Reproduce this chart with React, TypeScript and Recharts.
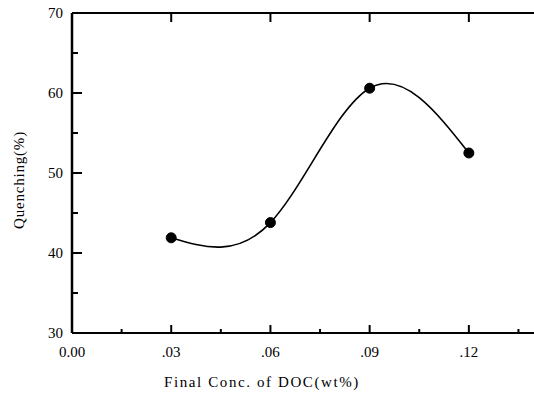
import React from 'react';
import { LineChart, Line, XAxis, YAxis } from 'recharts';

// DOC concentration (wt%) vs quenching (%)
const conc = [0.03, 0.06, 0.09, 0.12];
const quenching = [41.9, 43.8, 60.6, 52.5];

const xTicks = [0, 0.015, 0.03, 0.045, 0.06, 0.075, 0.09, 0.105, 0.12, 0.135];
const xTopTicks = [0.03, 0.06, 0.09, 0.12];
const yTicks = [30, 35, 40, 45, 50, 55, 60, 65, 70];
const yRightTicks = [40, 50, 60];

const data = conc.map((c, i) => ({ conc: c, q: quenching[i] }));

const FONT = '"Liberation Serif", "DejaVu Serif", serif';

const isMajorX = (v: number) => Math.round(v * 1000) % 30 === 0;
const fmtX = (v: number) => (v === 0 ? '0.00' : v.toFixed(2).replace(/^0/, ''));

const BottomTick = (props: any) => {
  const { x, y, payload } = props;
  const major = isMajorX(payload.value);
  return (
    <g>
      <line x1={x} y1={y} x2={x} y2={y - (major ? 8 : 4)} stroke="#000" strokeWidth={2} />
      {major && (
        <text x={x} y={y + 24} textAnchor="middle" fontFamily={FONT} fontSize={15} fill="#000">
          {fmtX(payload.value)}
        </text>
      )}
    </g>
  );
};

const TopTick = (props: any) => {
  const { x, y } = props;
  return <line x1={x} y1={y} x2={x} y2={y + 9} stroke="#000" strokeWidth={2} />;
};

const LeftTick = (props: any) => {
  const { x, y, payload } = props;
  const major = payload.value % 10 === 0;
  return (
    <g>
      <line x1={x} y1={y} x2={x + (major ? 10 : 6)} y2={y} stroke="#000" strokeWidth={2} />
      {major && (
        <text x={x - 9} y={y + 5} textAnchor="end" fontFamily={FONT} fontSize={15} fill="#000">
          {payload.value}
        </text>
      )}
    </g>
  );
};

const RightTick = (props: any) => {
  const { x, y } = props;
  return <line x1={x - 8} y1={y} x2={x - 1} y2={y} stroke="#000" strokeWidth={2} />;
};

export default function App() {
  return (
    <div style={{ position: 'fixed', left: 0, top: 0, width: 534, height: 394, overflow: 'hidden', background: '#fff' }}>
      <LineChart width={536} height={394} data={data} margin={{ top: 0, right: 1, bottom: 0, left: 0 }}>
        <XAxis
          xAxisId="bottom"
          dataKey="conc"
          type="number"
          domain={[0, 0.14]}
          ticks={xTicks}
          interval={0}
          height={61}
          tickSize={0}
          tickMargin={0}
          tickLine={false}
          tick={<BottomTick />}
          axisLine={{ stroke: '#000', strokeWidth: 2 }}
        />
        <XAxis
          xAxisId="top"
          orientation="top"
          dataKey="conc"
          type="number"
          domain={[0, 0.14]}
          ticks={xTopTicks}
          interval={0}
          height={13}
          tickSize={0}
          tickMargin={0}
          tickLine={false}
          tick={<TopTick />}
          axisLine={{ stroke: '#000', strokeWidth: 2 }}
        />
        <YAxis
          yAxisId="left"
          type="number"
          domain={[30, 70]}
          ticks={yTicks}
          interval={0}
          width={72}
          tickSize={0}
          tickMargin={0}
          tickLine={false}
          tick={<LeftTick />}
          axisLine={{ stroke: '#000', strokeWidth: 2.5 }}
        />
        <YAxis
          yAxisId="right"
          orientation="right"
          type="number"
          domain={[30, 70]}
          ticks={yRightTicks}
          interval={0}
          width={0}
          tickSize={0}
          tickMargin={0}
          tickLine={false}
          tick={<RightTick />}
          axisLine={{ stroke: '#000', strokeWidth: 2 }}
        />
        <Line
          xAxisId="bottom"
          yAxisId="left"
          type="natural"
          dataKey="q"
          stroke="#000"
          strokeWidth={1.6}
          dot={{ r: 5, fill: '#000', stroke: '#000', strokeWidth: 1 }}
          isAnimationActive={false}
        />
        <text
          x={19}
          y={180}
          transform="rotate(-90 19 180)"
          textAnchor="middle"
          dominantBaseline="central"
          fontFamily={FONT}
          fontSize={15}
          letterSpacing={0.8}
          fill="#000"
        >
          Quenching(%)
        </text>
        <text
          x={262}
          y={387}
          textAnchor="middle"
          fontFamily={FONT}
          fontSize={15}
          letterSpacing={1.6}
          fill="#000"
        >
          Final Conc. of DOC(wt%)
        </text>
      </LineChart>
    </div>
  );
}
